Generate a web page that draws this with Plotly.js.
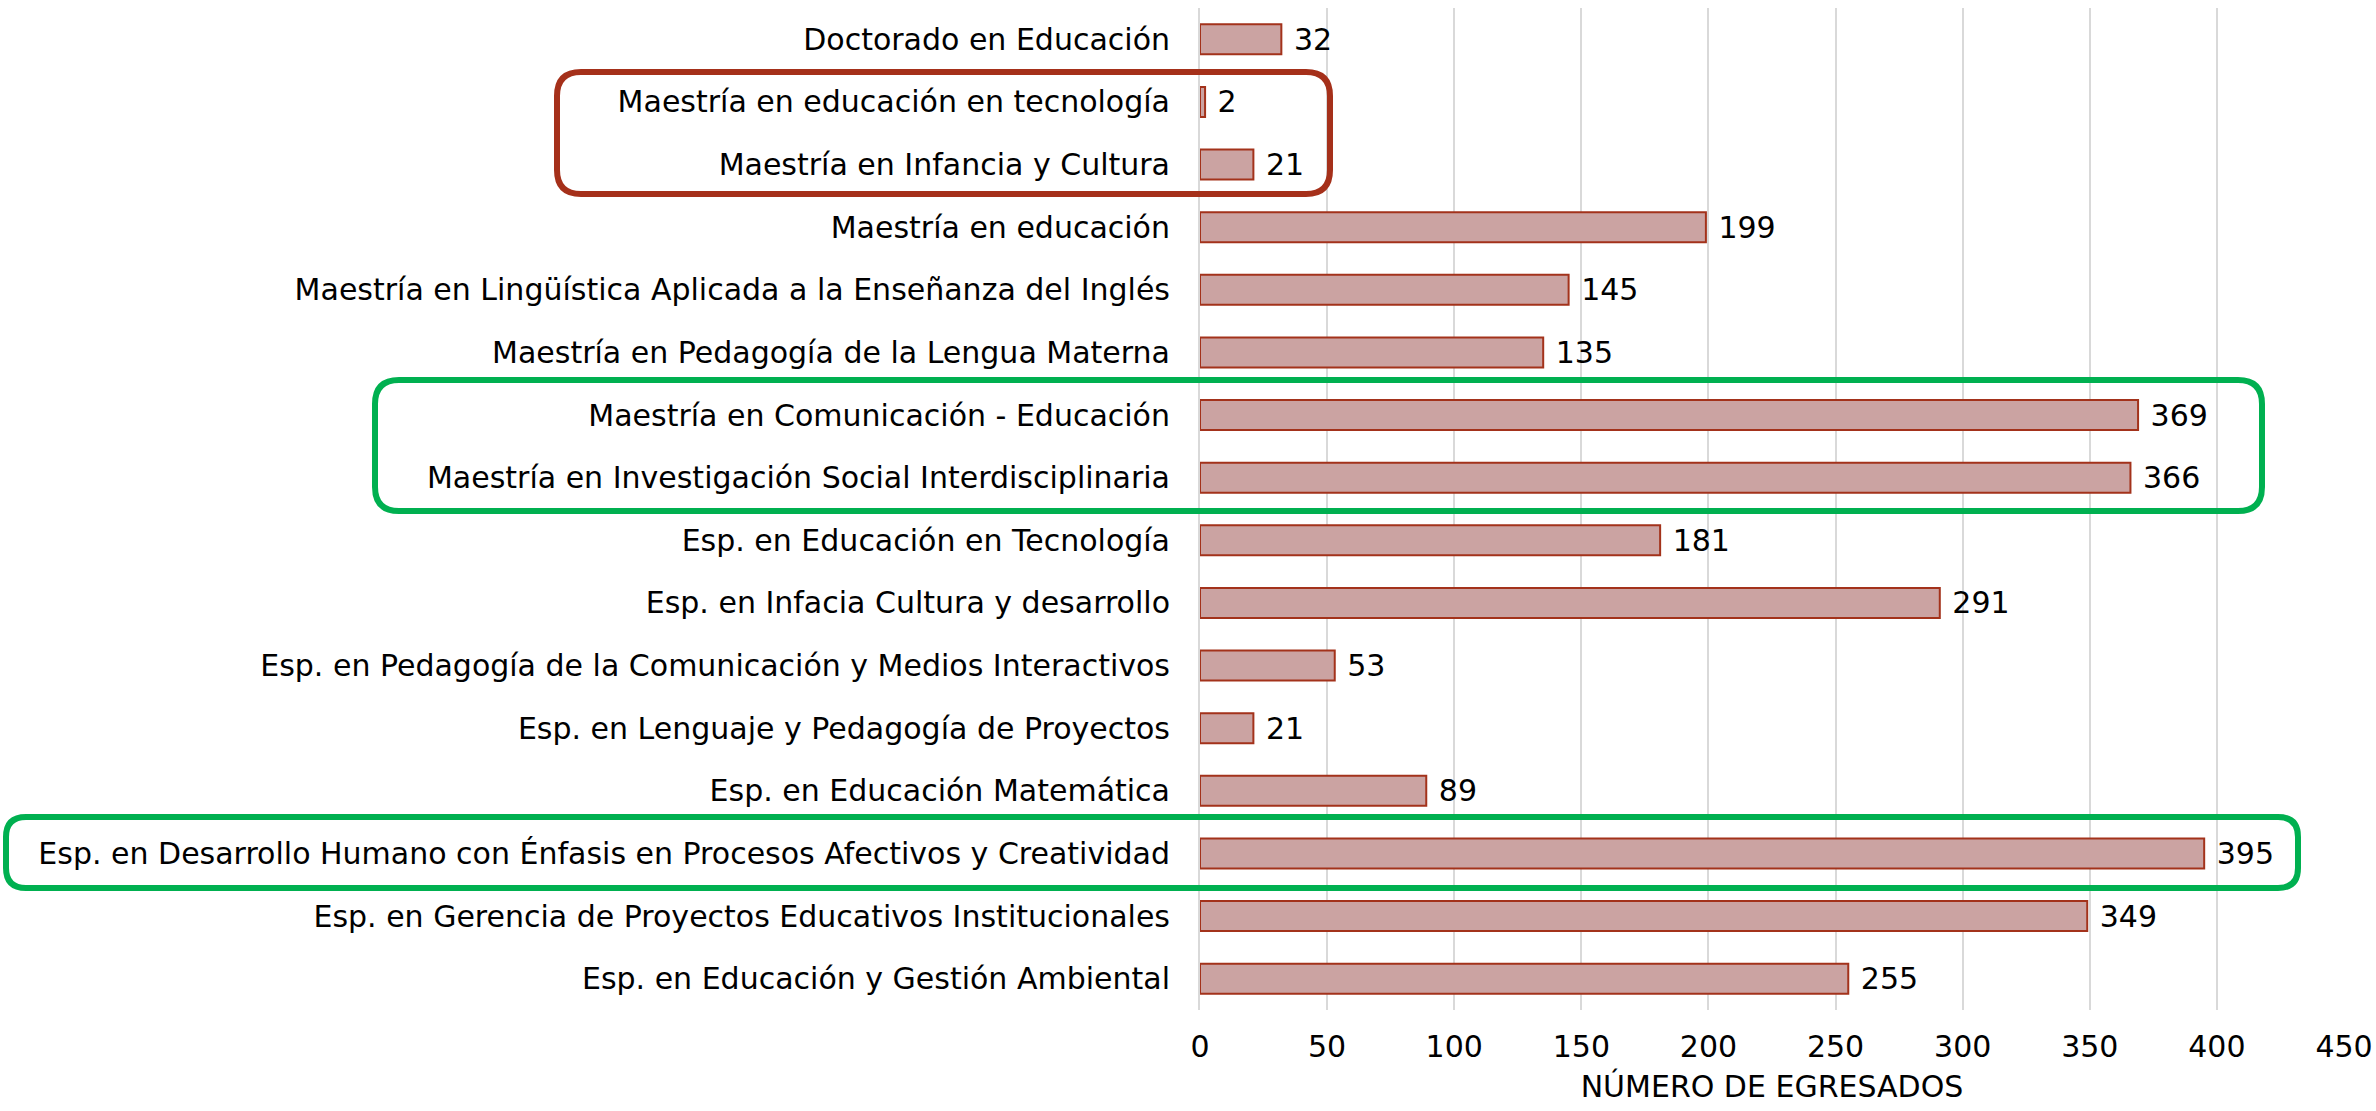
<!DOCTYPE html>
<html><head><meta charset="utf-8">
<script src="https://cdn.plot.ly/plotly-3.0.1.min.js"></script>
<style>html,body{margin:0;padding:0;background:#fff}</style>
</head><body><div id="chart" style="width:2376px;height:1111px"></div>
<script>
const categories = [
  "Doctorado en Educación",
  "Maestría en educación en tecnología",
  "Maestría en Infancia y Cultura",
  "Maestría en educación",
  "Maestría en Lingüística Aplicada a la Enseñanza del Inglés",
  "Maestría en Pedagogía de la Lengua Materna",
  "Maestría en Comunicación - Educación",
  "Maestría en Investigación Social Interdisciplinaria",
  "Esp. en Educación en Tecnología",
  "Esp. en Infacia Cultura y desarrollo",
  "Esp. en Pedagogía de la Comunicación y Medios Interactivos",
  "Esp. en Lenguaje y Pedagogía de Proyectos",
  "Esp. en Educación Matemática",
  "Esp. en Desarrollo Humano con Énfasis en Procesos Afectivos y Creatividad",
  "Esp. en Gerencia de Proyectos Educativos Institucionales",
  "Esp. en Educación y Gestión Ambiental"
];
const egresados = [32, 2, 21, 199, 145, 135, 369, 366, 181, 291, 53, 21, 89, 395, 349, 255];
const xTickVals = [0, 50, 100, 150, 200, 250, 300, 350, 400, 450];
const xTitle = "NÚMERO DE EGRESADOS";

const W = 2376, H = 1111;
const M = {l: 1200, r: 32, t: 8, b: 101};
const pw = W - M.l - M.r, ph = H - M.t - M.b;
function px2paperX(x){ return (x - M.l) / pw; }
function px2paperY(y){ return (H - M.b - y) / ph; }
function roundRect(x0, y0, x1, y1, r){
  const X = px2paperX, Y = px2paperY;
  return `M${X(x0+r)},${Y(y0)} L${X(x1-r)},${Y(y0)} Q${X(x1)},${Y(y0)} ${X(x1)},${Y(y0+r)} ` +
         `L${X(x1)},${Y(y1-r)} Q${X(x1)},${Y(y1)} ${X(x1-r)},${Y(y1)} ` +
         `L${X(x0+r)},${Y(y1)} Q${X(x0)},${Y(y1)} ${X(x0)},${Y(y1-r)} ` +
         `L${X(x0)},${Y(y0+r)} Q${X(x0)},${Y(y0)} ${X(x0+r)},${Y(y0)} Z`;
}

const font = "DejaVu Sans, sans-serif";
const trace = {
  type: 'bar', orientation: 'h',
  y: categories, x: egresados,
  marker: {color: '#CBA3A2', line: {color: '#A3321B', width: 2}},
  text: egresados.map(v => ' ' + v),
  textposition: 'outside', constraintext: 'none', cliponaxis: false,
  textfont: {family: font, size: 30, color: '#000'},
  hoverinfo: 'skip'
};
const layout = {
  width: W, height: H, margin: M,
  paper_bgcolor: '#fff', plot_bgcolor: '#fff',
  showlegend: false, bargap: 0.52,
  font: {family: font, color: '#000'},
  xaxis: {range: [0, 450], tickvals: xTickVals, showgrid: true, gridcolor: '#D9D9D9', gridwidth: 2,
    zeroline: false, showline: false, ticks: '', tickfont: {family: font, size: 30, color: '#000'},
    ticklabelstandoff: 16,
    title: {text: xTitle, font: {family: font, size: 30, color: '#000'}, standoff: 12}},
  yaxis: {autorange: 'reversed', type: 'category', ticks: '', showgrid: false, zeroline: false,
    showline: true, linecolor: '#D9D9D9', linewidth: 2,
    tickfont: {family: font, size: 30, color: '#000'}, ticklabelstandoff: 22},
  shapes: [
    {type: 'path', xref: 'paper', yref: 'paper', path: roundRect(557, 72, 1330, 194, 24), line: {color: '#A5301A', width: 6}},
    {type: 'path', xref: 'paper', yref: 'paper', path: roundRect(375, 380, 2262, 511, 24), line: {color: '#00B050', width: 6}},
    {type: 'path', xref: 'paper', yref: 'paper', path: roundRect(6, 817, 2298, 888, 20), line: {color: '#00B050', width: 6}}
  ]
};
Plotly.newPlot('chart', [trace], layout, {displayModeBar: false, staticPlot: true});
</script></body></html>
